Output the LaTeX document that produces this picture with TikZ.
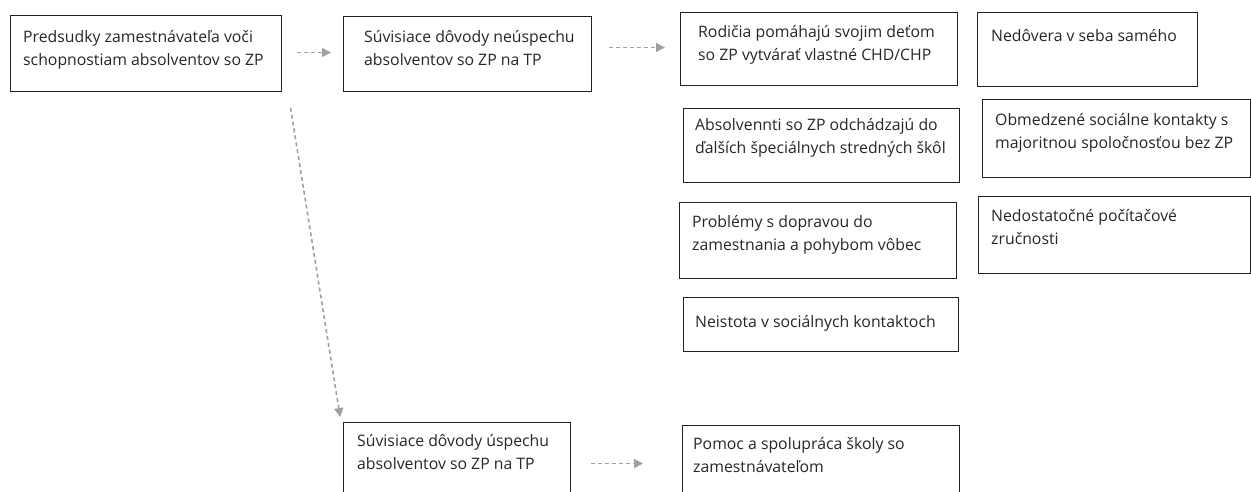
\documentclass[tikz,border=0pt]{standalone}
\usepackage{fontspec}
\setmainfont{Open Sans}
\usetikzlibrary{arrows.meta}
\definecolor{arrgray}{HTML}{A0A0A0}
\definecolor{boxline}{HTML}{222222}
\tikzset{
  box/.style={draw=boxline, line width=1pt, rectangle, anchor=north west, inner sep=0pt},
  txt/.style={anchor=north west, inner sep=0pt, align=left, font=\fontsize{15.8}{23}\selectfont, text=black!85,
    execute at begin node={\rule{0pt}{16pt}}},
  arr/.style={draw=arrgray, line width=1.6pt, dash pattern=on 4pt off 3pt, -{Triangle[length=9pt,width=9pt]}},
}
\begin{document}
\begin{tikzpicture}[x=1pt,y=-1pt]
\clip (0,0) rectangle (1251,491);
% boxes
\node[box, minimum width=271pt, minimum height=76pt] (b1) at (10,15) {};
\node[box, minimum width=248pt, minimum height=75pt] (b2) at (343,16) {};
\node[box, minimum width=277pt, minimum height=73pt] (b3) at (680,12) {};
\node[box, minimum width=220pt, minimum height=74pt] (b4) at (977,12) {};
\node[box, minimum width=276pt, minimum height=74pt] (b5) at (683,108) {};
\node[box, minimum width=268pt, minimum height=78pt] (b6) at (982,99) {};
\node[box, minimum width=277pt, minimum height=76pt] (b7) at (679,202) {};
\node[box, minimum width=272pt, minimum height=77pt] (b8) at (978,196) {};
\node[box, minimum width=275pt, minimum height=54pt] (b9) at (683,297) {};
\node[box, minimum width=227pt, minimum height=82pt] (b10) at (343,422) {};
\node[box, minimum width=277pt, minimum height=76pt] (b11) at (682,425) {};
% texts
\node[txt] (t1) at ([xshift=13pt,yshift=-15pt]b1.north west) {Predsudky zamestnávateľa voči\\schopnostiam absolventov so ZP};
\node[txt] (t2) at ([xshift=21pt,yshift=-14pt]b2.north west) {Súvisiace dôvody neúspechu\\absolventov so ZP na TP};
\node[txt] (t3) at ([xshift=18pt,yshift=-13pt]b3.north west) {Rodičia pomáhajú svojim deťom\\so ZP vytvárať vlastné CHD/CHP};
\node[txt] (t4) at ([xshift=14pt,yshift=-13pt]b4.north west) {Nedôvera v seba samého};
\node[txt] (t5) at ([xshift=12pt,yshift=-10pt]b5.north west) {Absolvennti so ZP odchádzajú do\\ďalších špeciálnych stredných škôl};
\node[txt] (t6) at ([xshift=13pt,yshift=-14pt]b6.north west) {Obmedzené sociálne kontakty s\\majoritnou spoločnosťou bez ZP};
\node[txt] (t7) at ([xshift=13pt,yshift=-13pt]b7.north west) {Problémy s dopravou do\\zamestnania a pohybom vôbec};
\node[txt] (t8) at ([xshift=13pt,yshift=-13pt]b8.north west) {Nedostatočné počítačové\\zručnosti};
\node[txt] (t9) at ([xshift=12pt,yshift=-14pt]b9.north west) {Neistota v sociálnych kontaktoch};
\node[txt] (t10) at ([xshift=14pt,yshift=-12pt]b10.north west) {Súvisiace dôvody úspechu\\absolventov so ZP na TP};
\node[txt] (t11) at ([xshift=11pt,yshift=-12pt]b11.north west) {Pomoc a spolupráca školy so\\zamestnávateľom};
% connectors
\draw[arr, shorten <=15pt, shorten >=12pt] ([yshift=1pt]b1.east) -- ([yshift=1.5pt]b2.west);
\draw[arr, shorten <=17pt, shorten >=15pt] ([yshift=6.5pt]b2.east) -- ([yshift=1.5pt]b3.west);
\draw[arr, shorten <=16pt, shorten >=5pt] ([xshift=6pt]b1.south east) -- ([xshift=-2pt]b10.north west);
\draw[arr, shorten <=20pt, shorten >=39pt] (b10.east) -- (b11.west);
\end{tikzpicture}
\end{document}
